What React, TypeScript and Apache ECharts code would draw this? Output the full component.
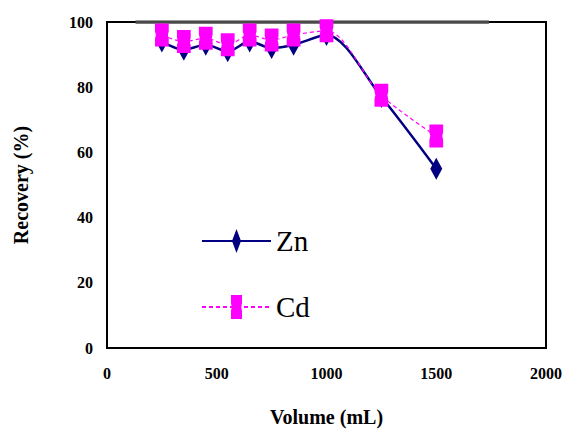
import React, { useEffect, useRef } from "react";
import * as echarts from "echarts";

const volumes = [250, 350, 450, 550, 650, 750, 850, 1000, 1250, 1500];
const znRecovery = [94, 91.5, 93, 91, 94, 92, 93, 96, 77, 55];
const cdRecovery = [96, 94, 95, 93, 96, 94.5, 96, 97.3, 77.5, 65];
const refLineX = [130, 1740];
const refLineY = 100;

// Symbols are drawn inside a padded 24x24 box so that the legend (which draws
// symbols in a square) keeps their narrow, tall proportions.
const DIAMOND = "path://M0,12 M24,12 M12,0 L16.5,12 L12,24 L7.5,12 Z";
const NOTCHED =
  "path://M0,12 M24,12 M6.5,0 L17.5,0 L17.5,8 L16.8,12 L17.5,16 L17.5,24 L6.5,24 L6.5,16 L7.2,12 L6.5,8 Z";

export default function App() {
  const ref = useRef<HTMLDivElement>(null);
  useEffect(() => {
    if (!ref.current) return;
    document.body.style.margin = "0";
    const chart = echarts.init(ref.current, null, { renderer: "svg" });
    const font = "Times New Roman, Liberation Serif, serif";
    chart.setOption({
      animation: false,
      backgroundColor: "#fff",
      grid: {
        left: 107,
        right: 11,
        top: 22,
        bottom: 79,
        show: true,
        borderColor: "#000",
        borderWidth: 2,
        backgroundColor: "transparent",
      },
      legend: {
        data: ["Zn", "Cd"],
        orient: "vertical",
        left: 196,
        top: 221,
        itemWidth: 69,
        itemHeight: 30,
        itemGap: 36,
        textStyle: { fontFamily: font, fontSize: 29, color: "#000", lineHeight: 30 },
      },
      xAxis: {
        type: "value",
        min: 0,
        max: 2000,
        interval: 500,
        name: "Volume (mL)",
        nameLocation: "middle",
        nameGap: 59,
        nameTextStyle: { fontFamily: font, fontSize: 20, fontWeight: "bold", color: "#000" },
        axisLine: { show: false },
        axisTick: { show: false },
        splitLine: { show: false },
        axisLabel: {
          fontFamily: font,
          fontSize: 16,
          fontWeight: "bold",
          color: "#000",
          margin: 17,
          formatter: (v: number) => String(v),
        },
      },
      yAxis: {
        type: "value",
        min: 0,
        max: 100,
        interval: 20,
        name: "Recovery (%)",
        nameLocation: "middle",
        nameGap: 76,
        nameTextStyle: { fontFamily: font, fontSize: 20, fontWeight: "bold", color: "#000" },
        axisLine: { show: false },
        axisTick: { show: false },
        splitLine: { show: false },
        axisLabel: {
          fontFamily: font,
          fontSize: 16,
          fontWeight: "bold",
          color: "#000",
          margin: 14,
          formatter: (v: number) => String(v),
        },
      },
      series: [
        {
          name: "ref",
          type: "line",
          silent: true,
          symbol: "none",
          data: refLineX.map((x) => [x, refLineY]),
          lineStyle: { color: "#4a4a4a", width: 3.5 },
          z: 1,
        },
        {
          name: "Zn",
          type: "line",
          smooth: 0.3,
          data: volumes.map((v, i) => [v, znRecovery[i]]),
          symbol: DIAMOND,
          symbolSize: [32, 22],
          symbolKeepAspect: false,
          itemStyle: { color: "#000080" },
          lineStyle: { color: "#000080", width: 2.5 },
          z: 2,
        },
        {
          name: "Cd",
          type: "line",
          smooth: 0.3,
          data: volumes.map((v, i) => [v, cdRecovery[i]]),
          symbol: NOTCHED,
          symbolSize: [30, 23],
          symbolKeepAspect: false,
          itemStyle: { color: "#ff00ff" },
          lineStyle: { color: "#ff00ff", width: 1.2, type: [4, 3] },
          z: 3,
        },
      ],
    });
    return () => chart.dispose();
  }, []);
  return <div ref={ref} style={{ width: 565, height: 432 }} />;
}
